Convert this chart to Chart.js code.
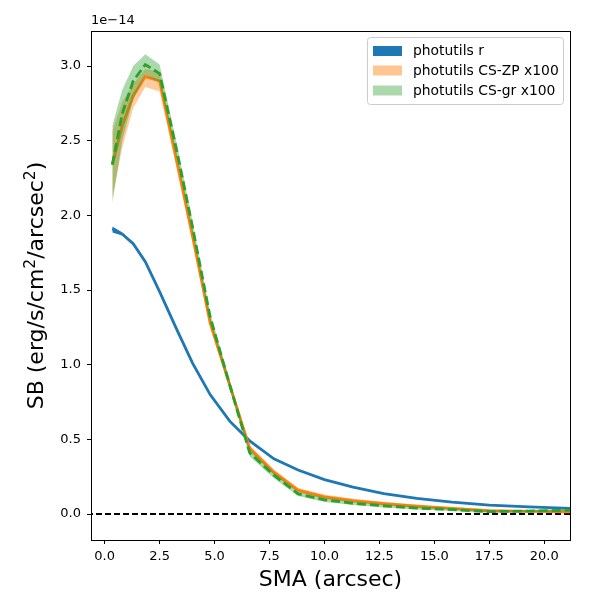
<!DOCTYPE html>
<html>
<head>
<meta charset="utf-8">
<script src="https://cdn.jsdelivr.net/npm/chart.js@4/dist/chart.umd.min.js"></script>
<style>
  html, body { margin: 0; padding: 0; background: #fff; }
  #wrap { width: 600px; height: 600px; }
</style>
</head>
<body>
<div id="wrap"><canvas id="graph" width="600" height="600"></canvas></div>
<script>
// surface brightness profiles, values in units of 1e-14 erg/s/cm2/arcsec2
const sma = [0.35, 0.8, 1.3, 1.85, 2.5, 3.3, 4.0, 4.8, 5.7, 6.6, 7.7, 8.8, 10.0, 11.3, 12.7, 14.2, 15.8, 17.5, 19.3, 21.2];

const rMean = [1.91, 1.875, 1.81, 1.69, 1.49, 1.23, 1.01, 0.80, 0.62, 0.49, 0.37, 0.295, 0.23, 0.18, 0.137, 0.105, 0.08, 0.06, 0.048, 0.038];
const rLo   = [1.885, 1.865, 1.80, 1.68, 1.48, 1.22, 1.00, 0.795, 0.615, 0.485, 0.366, 0.291, 0.227, 0.177, 0.134, 0.102, 0.078, 0.058, 0.046, 0.036];
const rHi   = [1.925, 1.885, 1.82, 1.70, 1.50, 1.24, 1.02, 0.805, 0.625, 0.495, 0.374, 0.299, 0.233, 0.183, 0.140, 0.108, 0.082, 0.062, 0.050, 0.040];

const zpMean = [2.34, 2.60, 2.80, 2.93, 2.90, 2.35, 1.86, 1.28, 0.86, 0.44, 0.28, 0.16, 0.115, 0.09, 0.07, 0.052, 0.038, 0.022, 0.018, 0.015];
const zpLo   = [2.12, 2.45, 2.72, 2.86, 2.83, 2.30, 1.82, 1.25, 0.83, 0.42, 0.26, 0.145, 0.10, 0.077, 0.058, 0.042, 0.030, 0.015, 0.012, 0.010];
const zpHi   = [2.56, 2.76, 2.88, 2.98, 2.96, 2.40, 1.90, 1.31, 0.89, 0.46, 0.30, 0.175, 0.13, 0.103, 0.082, 0.062, 0.046, 0.030, 0.024, 0.020];

const grMean = [2.34, 2.68, 2.90, 3.01, 2.95, 2.42, 1.92, 1.32, 0.86, 0.41, 0.26, 0.135, 0.095, 0.072, 0.055, 0.040, 0.030, 0.016, 0.020, 0.026];
const grLo   = [2.08, 2.50, 2.78, 2.94, 2.89, 2.37, 1.88, 1.29, 0.83, 0.385, 0.24, 0.12, 0.08, 0.06, 0.044, 0.030, 0.020, 0.008, 0.012, 0.018];
const grHi   = [2.60, 2.84, 3.00, 3.08, 3.01, 2.47, 1.96, 1.35, 0.89, 0.435, 0.28, 0.15, 0.11, 0.085, 0.066, 0.050, 0.040, 0.024, 0.028, 0.034];

const legendNames = ['photutils r', 'photutils CS-ZP x100', 'photutils CS-gr x100'];
const xLimits = [-0.62, 21.17];
const yLimits = [-0.174, 3.235];

const BLUE = '#1f77b4', ORANGE = '#ff7f0e', GREEN = '#2ca02c';
const FONT = "'DejaVu Sans', sans-serif";

function pts(arr) {
    return sma.map((x, i) => ({x: x, y: arr[i]}));
}

// lower edge of a band: invisible line the upper edge fills down to
function bandLo(arr, order) {
    return {data: pts(arr), borderWidth: 0, pointRadius: 0, fill: false, order: order};
}
function bandHi(arr, color, order) {
    return {data: pts(arr), borderWidth: 0, pointRadius: 0, fill: '-1', backgroundColor: color, order: order};
}
function line(arr, color, order, dash) {
    return {data: pts(arr), borderColor: color, borderWidth: 2.8, borderDash: dash || [],
            pointRadius: 0, fill: false, tension: 0, order: order};
}

// y label with real superscripts, like matplotlib mathtext
function drawYLabel(ctx, cx, cy) {
    const parts = [['SB (erg/s/cm', false], ['2', true], ['/arcsec', false], ['2', true], [')', false]];
    const big = '22px ' + FONT, small = '15.5px ' + FONT;
    let total = 0;
    for (const [t, sup] of parts) {
        ctx.font = sup ? small : big;
        total += ctx.measureText(t).width;
    }
    ctx.save();
    ctx.translate(cx, cy);
    ctx.rotate(-Math.PI / 2);
    ctx.textAlign = 'left';
    ctx.textBaseline = 'alphabetic';
    ctx.fillStyle = '#000';
    let pos = -total / 2;
    for (const [t, sup] of parts) {
        ctx.font = sup ? small : big;
        ctx.fillText(t, pos, sup ? -8.5 : 0);
        pos += ctx.measureText(t).width;
    }
    ctx.restore();
}

// frame, offset text, y label and legend drawn the matplotlib way
const mplExtras = {
    id: 'mplExtras',
    afterDatasetsDraw(chart) {
        const {ctx, chartArea: a} = chart;
        ctx.save();
        ctx.strokeStyle = '#000';
        ctx.lineWidth = 1;
        ctx.strokeRect(Math.round(a.left) + 0.5, Math.round(a.top) + 0.5,
                       Math.round(a.right - a.left), Math.round(a.bottom - a.top));
        ctx.restore();
    },
    afterDraw(chart) {
        const ctx = chart.ctx;
        const a = chart.chartArea;
        ctx.save();
        ctx.fillStyle = '#000';
        ctx.font = '13px ' + FONT;
        ctx.textAlign = 'left';
        ctx.textBaseline = 'alphabetic';
        ctx.fillText('1e\u221214', 91, 24);

        drawYLabel(ctx, 43, (a.top + a.bottom) / 2);

        // legend box
        const bx = 367.5, by = 37.5, bw = 196, bh = 67;
        ctx.beginPath();
        ctx.roundRect(bx, by, bw, bh, 3);
        ctx.fillStyle = 'rgba(255,255,255,0.8)';
        ctx.fill();
        ctx.strokeStyle = '#cccccc';
        ctx.lineWidth = 1;
        ctx.stroke();

        const patchColors = [BLUE, 'rgba(255,127,14,0.45)', 'rgba(44,160,44,0.4)'];
        const rows = [51, 70.5, 90.5];
        ctx.font = '13.9px ' + FONT;
        ctx.textBaseline = 'middle';
        for (let i = 0; i < legendNames.length; i++) {
            ctx.fillStyle = patchColors[i];
            ctx.fillRect(373, rows[i] - 5, 29, 10);
            ctx.fillStyle = '#000';
            ctx.fillText(legendNames[i], 413, rows[i] + 0.5);
        }
        ctx.restore();
    }
};

document.addEventListener('DOMContentLoaded', function () {
    const graph = document.getElementById('graph');

    new Chart(graph, {
        type: 'line',
        data: {
            datasets: [
                {data: [{x: xLimits[0] - 1, y: 0}, {x: xLimits[1] + 1, y: 0}], borderColor: '#000',
                 borderWidth: 1.8, borderDash: [6, 3], pointRadius: 0, fill: false, order: 9},
                bandLo(rLo, 8), bandHi(rHi, BLUE, 8),
                line(rMean, BLUE, 7),
                bandLo(zpLo, 6), bandHi(zpHi, 'rgba(255,127,14,0.4)', 6),
                line(zpMean, ORANGE, 5),
                bandLo(grLo, 4), bandHi(grHi, 'rgba(44,160,44,0.4)', 4),
                line(grMean, GREEN, 3, [9, 4])
            ]
        },
        options: {
            responsive: false,
            animation: false,
            devicePixelRatio: 1,
            events: [],
            layout: {padding: {left: 0, right: 30, top: 31, bottom: 0}},
            plugins: {
                legend: {display: false},
                tooltip: {enabled: false}
            },
            scales: {
                x: {
                    type: 'linear',
                    min: xLimits[0],
                    max: xLimits[1],
                    afterFit: (s) => { s.height = 60; },
                    border: {display: false},
                    grid: {display: true, drawOnChartArea: false, drawTicks: true, tickLength: 4, color: '#000', lineWidth: 1},
                    ticks: {
                        stepSize: 2.5, includeBounds: false, autoSkip: false, maxRotation: 0,
                        padding: 5, color: '#000', font: {family: FONT, size: 13},
                        callback: (v) => v.toFixed(1)
                    },
                    title: {display: true, text: 'SMA (arcsec)', color: '#000',
                            font: {family: FONT, size: 22, lineHeight: 1.2}, padding: {top: 0, bottom: 7}}
                },
                y: {
                    type: 'linear',
                    min: yLimits[0],
                    max: yLimits[1],
                    afterFit: (s) => { s.width = 91; },
                    border: {display: false},
                    grid: {display: true, drawOnChartArea: false, drawTicks: true, tickLength: 4, color: '#000', lineWidth: 1},
                    ticks: {
                        stepSize: 0.5, includeBounds: false, autoSkip: false,
                        padding: 6, color: '#000', font: {family: FONT, size: 13},
                        callback: (v) => v.toFixed(1)
                    },
                    title: {display: false}
                }
            }
        },
        plugins: [mplExtras]
    });
});
</script>
</body>
</html>
